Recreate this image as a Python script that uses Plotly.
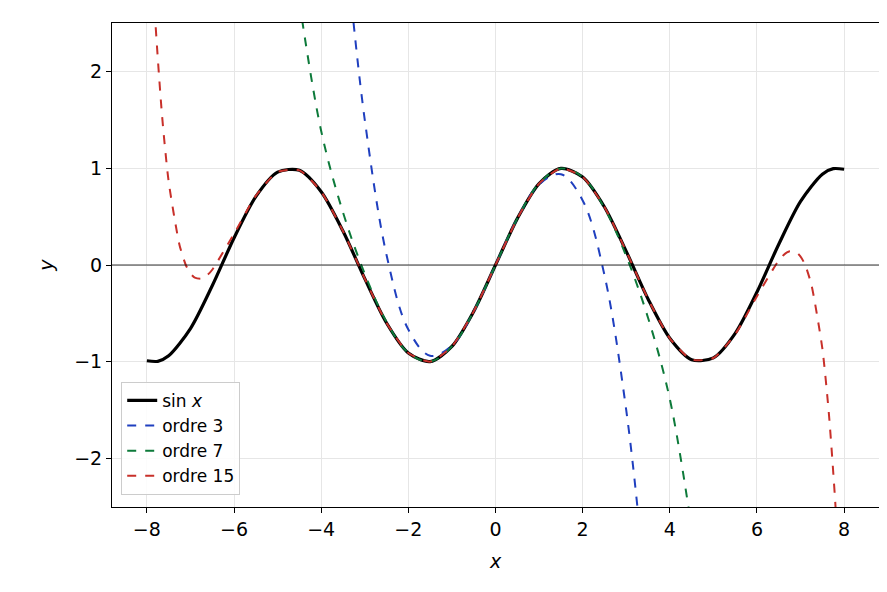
import plotly.graph_objects as go

# sin x
x_sin = [-8, -7.75, -7.5, -7, -6.5, -6, -5.5, -5, -4.5, -4, -3.5, -3, -2.5, -2, -1.5, -1, -0.5,
         0, 0.5, 1, 1.5, 2, 2.5, 3, 3.5, 4, 4.5, 5, 5.5, 6, 6.5, 7, 7.5, 7.75, 8]
y_sin = [-0.989, -0.995, -0.938, -0.657, -0.215, 0.279, 0.706, 0.959, 0.978, 0.757, 0.351, -0.141,
         -0.599, -0.909, -0.998, -0.841, -0.479,
         0, 0.479, 0.841, 0.998, 0.909, 0.599, 0.141, -0.351, -0.757, -0.978, -0.959,
         -0.706, -0.279, 0.215, 0.657, 0.938, 0.995, 0.989]

# ordre 3
x_o3 = [-3.3, -3, -2.5, -2, -1.5, -1, -0.5, 0, 0.5, 1, 1.5, 2, 2.5, 3, 3.3]
y_o3 = [2.69, 1.5, 0.104, -0.667, -0.938, -0.833, -0.479, 0, 0.479, 0.833, 0.938, 0.667,
        -0.104, -1.5, -2.69]

# ordre 7
x_o7 = [-4.5, -4, -3.5, -3, -2.5, -2, -1.5, -1, -0.5, 0, 0.5, 1, 1.5, 2, 2.5, 3, 3.5, 4, 4.5]
y_o7 = [2.72, 1.385, 0.545, -0.091, -0.589, -0.908, -0.997, -0.841, -0.479, 0,
        0.479, 0.841, 0.997, 0.908, 0.589, 0.091, -0.545, -1.385, -2.72]

# ordre 15
x_o15 = [-8, -7.8, -7.65, -7.5, -7.25, -7.1, -7, -6.9, -6.75, -6.6, -6.5, -6, -5.5, -5, -4.5,
         -4, -3.5, -3, -2.5, -2, -1.5, -1, -0.5, 0, 0.5, 1, 1.5, 2, 2.5, 3, 3.5, 4, 4.5, 5,
         5.5, 6, 6.5, 6.6, 6.75, 6.9, 7, 7.1, 7.25, 7.5, 7.65, 7.8, 8]
y_o15 = [4.31, 2.48, 1.535, 0.862, 0.205, -0.0075, -0.087, -0.131, -0.141, -0.099, -0.049,
         0.322, 0.715, 0.961, 0.978, 0.757, 0.351, -0.141, -0.599, -0.909, -0.998, -0.841,
         -0.479, 0, 0.479, 0.841, 0.998, 0.909, 0.599, 0.141, -0.351, -0.757, -0.978, -0.961,
         -0.715, -0.322, 0.049, 0.099, 0.141, 0.131, 0.087, 0.0075, -0.205, -0.862, -1.535,
         -2.48, -4.31]

fig = go.Figure()
fig.add_trace(go.Scatter(x=x_sin, y=y_sin, mode="lines", name="sin <i>x</i>",
                         line=dict(color="black", width=3.2, shape="spline", smoothing=0.8)))
fig.add_trace(go.Scatter(x=x_o3, y=y_o3, mode="lines", name="ordre 3",
                         line=dict(color="#1f3fbf", width=2, dash="dash", shape="spline")))
fig.add_trace(go.Scatter(x=x_o7, y=y_o7, mode="lines", name="ordre 7",
                         line=dict(color="#0d7a3a", width=2, dash="dash", shape="spline")))
fig.add_trace(go.Scatter(x=x_o15, y=y_o15, mode="lines", name="ordre 15",
                         line=dict(color="#c8302a", width=2, dash="dash", shape="spline",
                                   smoothing=0.6)))

fig.add_hline(y=0, line=dict(color="black", width=0.8))

axis = dict(showline=True, linecolor="black", linewidth=1, mirror=True, ticks="outside",
            ticklen=5, tickcolor="black", showgrid=True, gridcolor="#e6e6e6", zeroline=False,
            tickfont=dict(size=19, color="black"), automargin=False)

fig.update_layout(
    width=887, height=592, autosize=False, plot_bgcolor="white", paper_bgcolor="white",
    font=dict(family="DejaVu Sans", color="black"),
    margin=dict(l=104, r=16, t=15, b=93),
    showlegend=True,
    legend=dict(x=0.012, y=0.025, xanchor="left", yanchor="bottom", bordercolor="#cccccc",
                borderwidth=1, bgcolor="rgba(255,255,255,0.85)", font=dict(size=17),
                tracegroupgap=4),
    xaxis=dict(axis, range=[-8.8, 8.8], tickvals=[-8, -6, -4, -2, 0, 2, 4, 6, 8],
               title=dict(text="<i>x</i>", font=dict(size=19))),
    yaxis=dict(axis, range=[-2.5, 2.5], tickvals=[-2, -1, 0, 1, 2],
               title=dict(text="<i>y</i>", font=dict(size=19))),
)

fig.write_html("out.html")
